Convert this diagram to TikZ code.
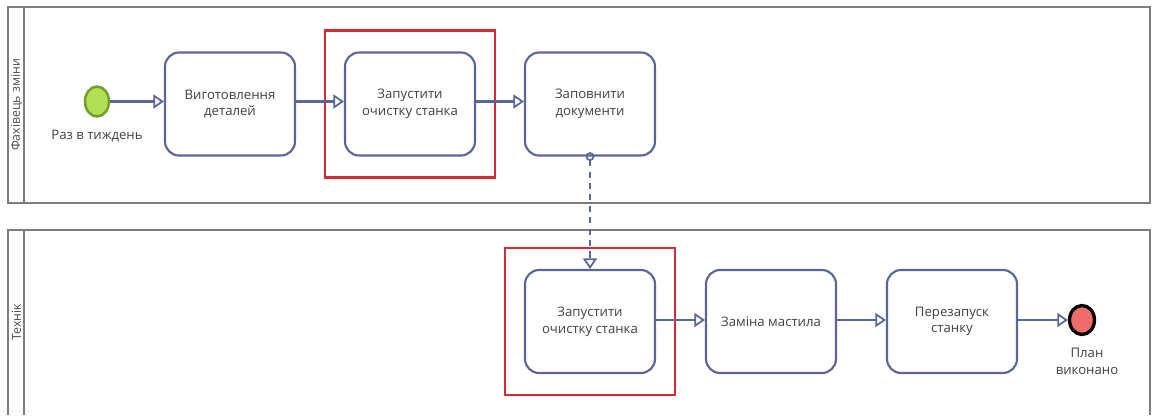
\documentclass[tikz,border=0pt]{standalone}
\usepackage{fontspec}
\setmainfont{Open Sans}
\usepackage{tikz}
\usetikzlibrary{arrows.meta, positioning, shapes.geometric, fit}
\definecolor{flowblue}{RGB}{92,102,150}
\definecolor{poolgray}{RGB}{125,125,125}
\definecolor{startgreen}{RGB}{176,222,84}
\definecolor{startedge}{RGB}{112,160,40}
\definecolor{endred}{RGB}{238,108,108}
\definecolor{markred}{RGB}{214,42,52}

\begin{document}
\begin{tikzpicture}[
    task/.style={draw=flowblue,line width=1.2pt,rounded corners=8pt,fill=white,
      minimum width=2.6cm,minimum height=2.06cm,align=center,
      font=\fontsize{7.5}{9.5}\selectfont,text=black!75},
    pool/.style={draw=poolgray,line width=1.2pt},
    lanelbl/.style={rotate=90,font=\fontsize{7}{8}\selectfont,text=black!70},
    startev/.style={ellipse,draw=startedge,line width=1.4pt,fill=startgreen,
      minimum width=0.48cm,minimum height=0.6cm,inner sep=0pt},
    endev/.style={ellipse,draw=black,line width=1.9pt,fill=endred,
      minimum width=0.5cm,minimum height=0.58cm,inner sep=0pt},
    evlbl/.style={align=center,font=\fontsize{7.5}{9.5}\selectfont,text=black!75},
    flow/.style={draw=flowblue,line width=1.3pt,
      -{Triangle[open,length=6pt,width=8pt,line width=1pt]}},
    redframe/.style={draw=markred,line width=1.3pt,inner xsep=0.38cm,inner ysep=0.42cm}
  ]
  \useasboundingbox (0,0) rectangle (23.1,-8.3);

  % pools
  \draw[pool] (0.16,-0.14) rectangle (23.0,-4.06);
  \draw[pool] (0.48,-0.14) -- (0.48,-4.06);
  \draw[pool] (0.16,-8.3) |- (23.0,-4.6) -- (23.0,-8.3);
  \draw[pool] (0.48,-4.6) -- (0.48,-8.3);
  \node[lanelbl] (lane1) at (0.33,-2.1) {Фахівець зміни};
  \node[lanelbl] (lane2) at (0.33,-6.45) {Технік};

  % top lane
  \node[startev] (start) at (1.94,-2.03) {};
  \node[evlbl,below=0.12cm of start] (startlbl) {Раз в тиждень};
  \node[task] (t1) at (4.6,-2.08) {Виготовлення\\деталей};
  \node[task] (t2) at (8.2,-2.08) {Запустити\\очистку станка};
  \node[task] (t3) at (11.8,-2.08) {Заповнити\\документи};
  \node[redframe,fit=(t2)] (hl1) {};
  \foreach \a/\b in {start/t1, t1/t2, t2/t3} {
    \draw[flow] (\a.east |- start) -- (\b.west |- start); }

  % bottom lane
  \node[task] (u1) at (11.8,-6.43) {Запустити\\очистку станка};
  \node[task] (u2) at (15.42,-6.43) {Заміна мастила};
  \node[task] (u3) at (19.04,-6.43) {Перезапуск\\станку};
  \node[endev] (stop) at (21.64,-6.4) {};
  \node[evlbl,below=0.12cm of stop,xshift=0.1cm] (stoplbl) {План\\виконано};
  \node[redframe,fit=(u1)] (hl2) {};
  \foreach \a/\b in {u1/u2, u2/u3, u3/stop} {
    \draw[flow] (\a.east |- stop) -- (\b.west |- stop); }

  % message flow
  \draw[flow,line width=1.2pt,dash pattern=on 3.5pt off 3pt,
    {Circle[open,length=5pt,line width=1pt]}-{Triangle[open,length=6pt,width=8pt,line width=1pt]},
    shorten <=-2.5pt]
    (t3.south) -- (u1.north);
\end{tikzpicture}
\end{document}
